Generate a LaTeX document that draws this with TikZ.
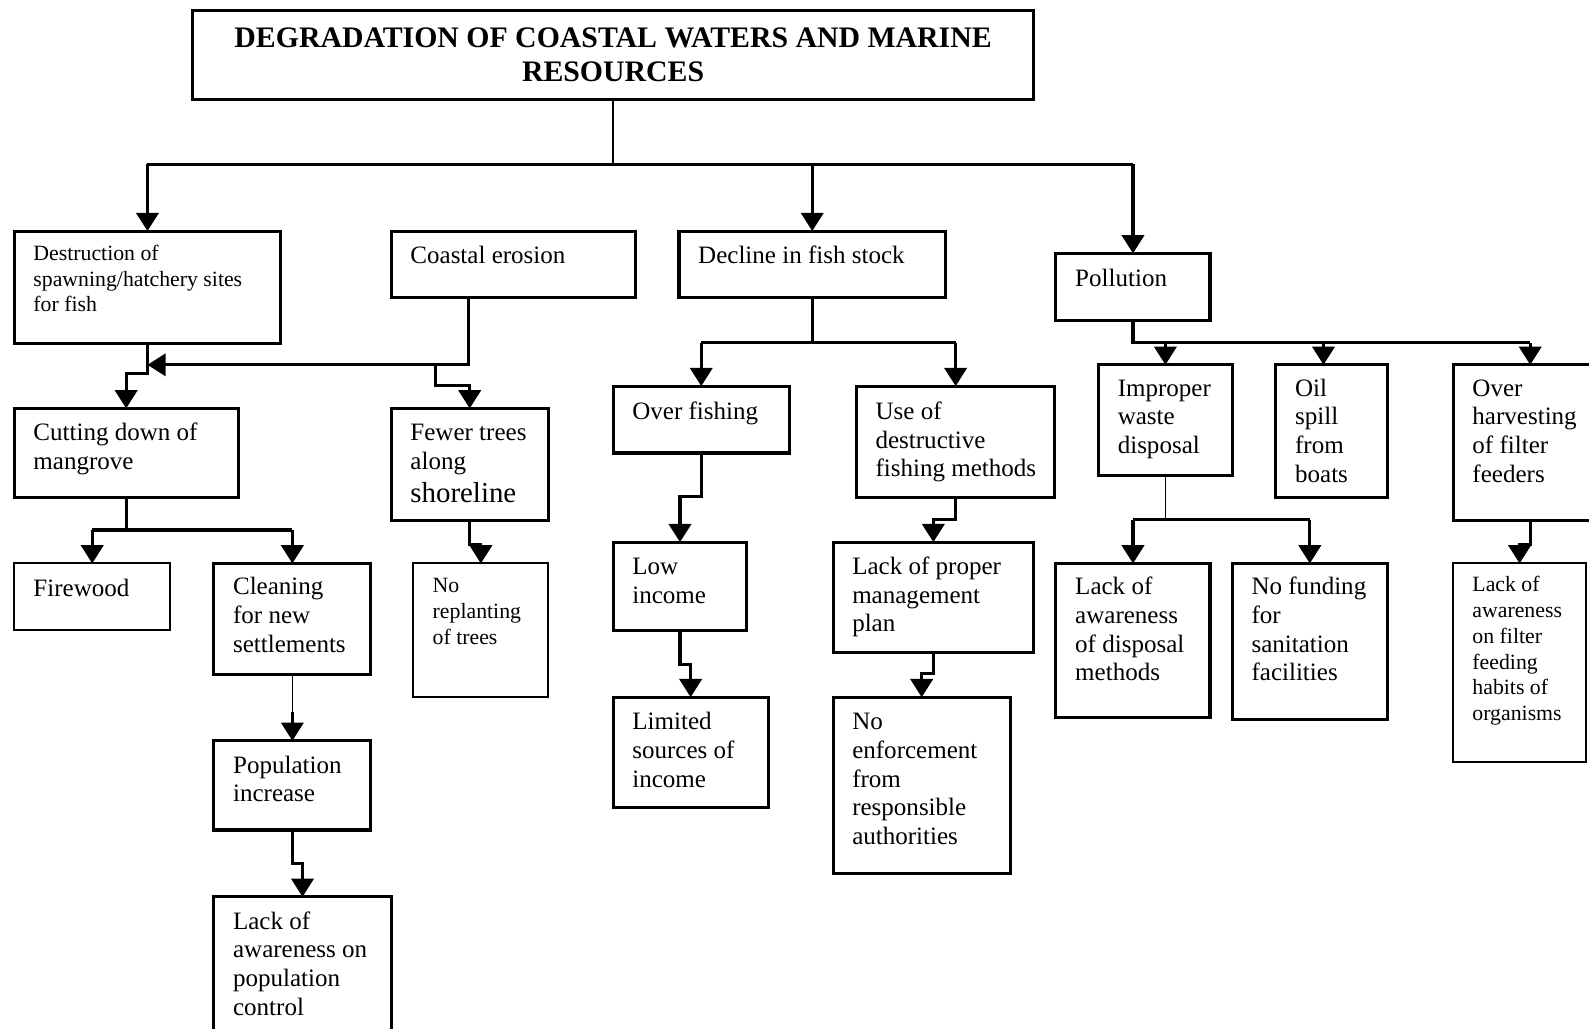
\documentclass[tikz,border=0pt]{standalone}
\usepackage{fontspec}
\setmainfont{Liberation Serif}
\usetikzlibrary{arrows.meta}
\newcommand\mainf{\fontsize{24.7}{28.3}\selectfont}
\newcommand\smallf{\fontsize{21.5}{25.4}\selectfont}
% name, x1, y1, x2, y2, style, first baseline, text
\newcommand\bx[8]{%
  \node[#6,anchor=north west,inner sep=0pt,outer sep=0pt] (#1) at (#2,#3)
  {\begin{minipage}[t][\dimexpr#5pt-#3pt\relax][t]{\dimexpr#4pt-#2pt\relax}\raggedright\leftskip=19pt\rule{0pt}{#7pt}#8\end{minipage}};}
\tikzset{
  box/.style={draw,line width=3pt,font=\mainf},
  thinbox/.style={draw,line width=2pt,font=\mainf},
  smallbox/.style={draw,line width=3pt,font=\smallf},
  thinsmallbox/.style={draw,line width=2pt,font=\smallf},
  conn/.style={line width=3pt},
  thinconn/.style={line width=1.5pt},
  arr/.style={conn,-{Triangle[width=22pt,length=18pt]}},
  titlebox/.style={draw,line width=3pt,minimum width=830pt,minimum height=88pt,align=center,
    font=\fontsize{29.4}{33}\selectfont\bfseries}
}
\begin{document}
\begin{tikzpicture}[x=1pt,y=-1pt]
\useasboundingbox (0,0) rectangle (1568,1015);
\node[titlebox] (title) at (605,54) {DEGRADATION OF COASTAL WATERS AND MARINE\\RESOURCES};

\bx{destr}{14}{228}{277}{339}{smallbox}{29}{Destruction of\\spawning/hatchery sites\\for fish}
\bx{coast}{386}{228}{627}{294}{box}{32}{Coastal erosion}
\bx{decl}{670}{228}{933}{294}{box}{32}{Decline in fish stock}
\bx{poll}{1042}{250}{1194}{316}{box}{33}{Pollution}
\bx{cut}{14}{403}{235}{491}{box}{32}{Cutting down of\\mangrove}
\bx{fewer}{386}{403}{541}{514}{box}{32}{Fewer trees\\along\\[4pt]{\fontsize{28.5}{32}\selectfont shoreline}}
\bx{fire}{14}{556}{168}{622}{thinbox}{33}{Firewood}
\bx{clean}{211}{556}{366}{666}{box}{31}{Cleaning\\for new\\settlements}
\bx{pop}{211}{731}{366}{819}{box}{32}{Population\\increase}
\bx{lackpop}{211}{885}{386}{1025}{box}{32}{Lack of\\awareness on\\population\\control}
\bx{repl}{408}{556}{541}{688}{thinsmallbox}{29}{No\\replanting\\of trees}
\bx{overf}{605}{381}{779}{447}{box}{33}{Over fishing}
\bx{usedes}{845}{381}{1041}{491}{box}{33}{Use of\\destructive\\fishing methods}
\bx{low}{605}{535}{737}{622}{box}{32}{Low\\income}
\bx{limited}{605}{688}{758}{797}{box}{32}{Limited\\sources of\\income}
\bx{lackprop}{822}{535}{1020}{644}{box}{32}{Lack of proper\\management\\plan}
\bx{noenf}{822}{688}{997}{862}{box}{32}{No\\enforcement\\from\\responsible\\authorities}
\bx{improper}{1084}{360}{1216}{469}{box}{31}{Improper\\waste\\disposal}
\bx{oil}{1259}{360}{1369}{491}{box}{31}{Oil\\spill\\from\\boats}
\bx{overh}{1434}{360}{1586}{514}{box}{31}{Over\\harvesting\\of filter\\feeders}
\bx{lackdisp}{1042}{556}{1194}{708}{box}{31}{Lack of\\awareness\\of disposal\\methods}
\bx{nofund}{1216}{556}{1369}{710}{box}{31}{No funding\\for\\sanitation\\facilities}
\bx{lackfilt}{1434}{556}{1565}{752}{thinsmallbox}{28}{Lack of\\awareness\\on filter\\feeding\\habits of\\organisms}

% top level
\draw[thinconn] (title.south) -- (title.south |- 0,162);
\draw[conn] (destr.north |- 0,162) -- (poll.north |- 0,162);
\draw[arr] (destr.north |- 0,162) -- (destr.north);
\draw[arr] (decl.north |- 0,162) -- (decl.north);
\draw[arr] (poll.north |- 0,162) -- (poll.north);

% destruction / coastal erosion
\draw[arr] (destr.south) -- (destr.south |- 0,369) -- (cut.north |- 0,369) -- (cut.north);
\draw[arr] (coast.south -| 462,0) -- (462,360) -- (destr.south |- 0,360);
\coordinate (j1) at (430,360);
\draw[arr] (j1) -- (j1 |- 0,380) -- (fewer.north |- 0,380) -- (fewer.north);

% mangrove
\draw[conn] (cut.south) -- (cut.south |- 0,523);
\draw[conn] (fire.north |- 0,523) -- (clean.north |- 0,523);
\draw[arr] (fire.north |- 0,523) -- (fire.north);
\draw[arr] (clean.north |- 0,523) -- (clean.north);
\coordinate (j2) at (288.5,703);
\draw[thinconn] (clean.south) -- (j2);
\draw[arr] (j2) -- (pop.north);
\draw[arr] (pop.south) -- (pop.south |- 0,852) -- (lackpop.north |- 0,852) -- (lackpop.north);
\draw[arr] (fewer.south) -- (fewer.south |- 0,537) -- (repl.north |- 0,537) -- (repl.north);

% fish stock
\draw[conn] (decl.south) -- (decl.south |- 0,338);
\draw[conn] (overf.north |- 0,338) -- (usedes.north |- 0,338);
\draw[arr] (overf.north |- 0,338) -- (overf.north);
\draw[arr] (usedes.north |- 0,338) -- (usedes.north);
\draw[arr] (overf.south) -- (overf.south |- 0,490) -- (low.north |- 0,490) -- (low.north);
\draw[arr] (low.south) -- (low.south |- 0,656) -- (limited.north |- 0,656) -- (limited.north);
\draw[arr] (usedes.south) -- (usedes.south |- 0,513) -- (lackprop.north |- 0,513) -- (lackprop.north);
\draw[arr] (lackprop.south) -- (lackprop.south |- 0,665) -- (noenf.north |- 0,665) -- (noenf.north);

% pollution
\draw[conn] (poll.south) -- (poll.south |- 0,338) -- (overh.north |- 0,338);
\draw[arr] (improper.north |- 0,338) -- (improper.north);
\draw[arr] (1306,338) -- (oil.north -| 1306,0);
\draw[arr] (overh.north |- 0,338) -- (overh.north);
\draw[thinconn] (improper.south) -- (improper.south |- 0,513);
\draw[conn] (lackdisp.north |- 0,513) -- (nofund.north |- 0,513);
\draw[arr] (lackdisp.north |- 0,513) -- (lackdisp.north);
\draw[arr] (nofund.north |- 0,513) -- (nofund.north);
\draw[arr] (overh.south) -- (overh.south |- 0,537) -- (lackfilt.north |- 0,537) -- (lackfilt.north);
\end{tikzpicture}
\end{document}
